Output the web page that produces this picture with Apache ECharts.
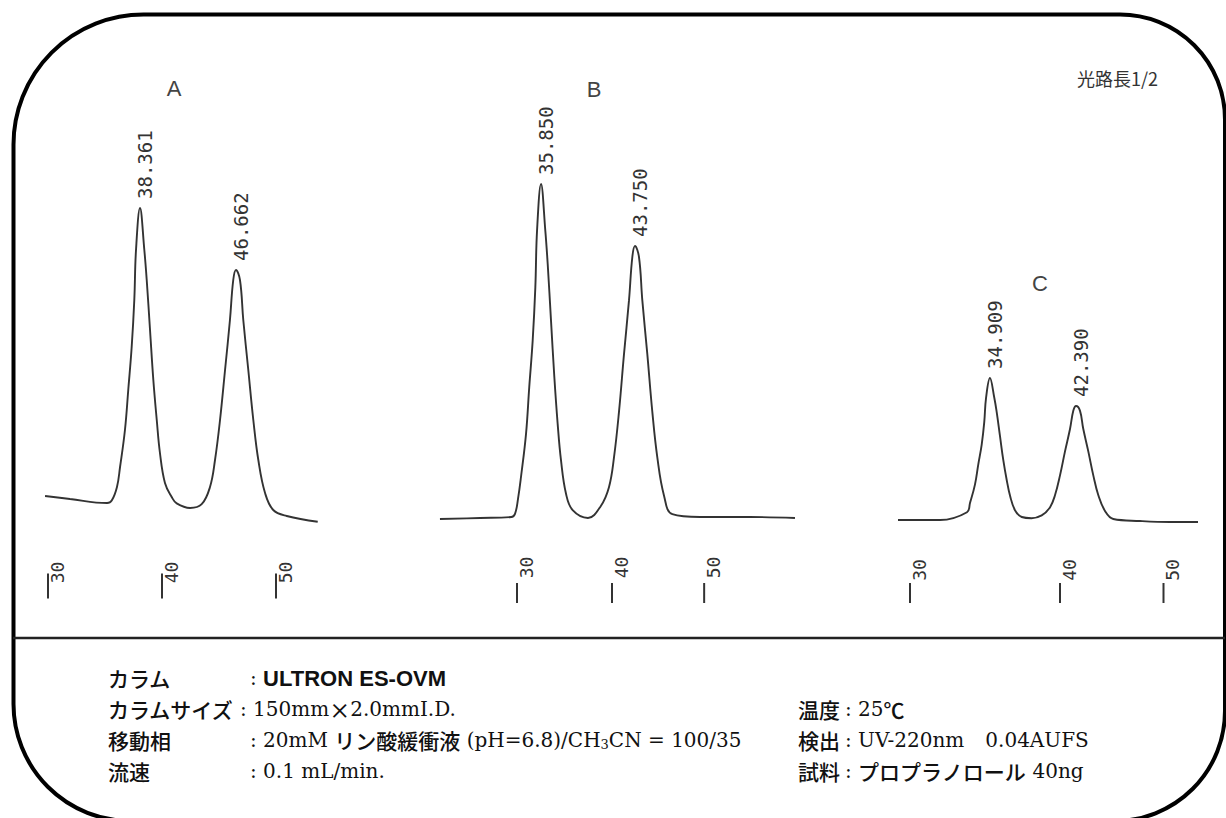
<!DOCTYPE html>
<html>
<head>
<meta charset="utf-8">
<script src="https://cdn.jsdelivr.net/npm/echarts@6/dist/echarts.min.js"></script>
<style>
html, body { margin: 0; padding: 0; background: #fff; }
#chart { width: 1226px; height: 818px; }
</style>
</head>
<body>
<div id="chart"></div>
<script>
// クロマトグラム A
var timeA = [29.74, 31.93, 35.18, 35.59, 36.05, 36.32, 36.75, 37.04, 37.34, 37.57, 37.72, 38.07, 38.45, 38.66, 38.95, 39.24, 39.54, 39.82, 40.26, 40.85, 41.29, 42.46, 43.48, 44.21, 44.65, 45.09, 45.53, 45.96, 46.25, 46.49, 46.84, 47.13, 47.57, 48.01, 48.45, 49.04, 49.76, 50.94, 53.66];
var signalA = [7.25, 6.5, 5.5, 6.1, 9.5, 14.5, 23.75, 33.75, 44.5, 56.25, 68.75, 79.25, 68.75, 61.25, 48.75, 36.25, 26.25, 18, 10.5, 7, 5.4, 4.25, 5.2, 9.5, 16.25, 26.25, 38.75, 51.25, 61.25, 63.75, 61.25, 51.25, 38.75, 26.25, 16.25, 8, 3.75, 2.25, 0.8];
// クロマトグラム B
var timeB = [21.89, 26.1, 29.4, 29.79, 30.11, 30.42, 30.95, 31.29, 31.65, 31.93, 32.11, 32.53, 32.98, 33.23, 33.58, 33.93, 34.28, 34.63, 35.16, 35.86, 37.47, 38.81, 39.68, 40.21, 40.74, 41.26, 41.79, 42.14, 42.42, 42.84, 43.19, 43.72, 44.24, 44.77, 45.47, 46.35, 49.26, 54.53, 59.26];
var signalB = [1.5, 1.75, 2, 2.8, 6.6, 12, 22.8, 34.5, 46.1, 59.4, 73.6, 85.25, 73.6, 65.3, 51.1, 37, 25.3, 16.2, 7.8, 3.7, 1.75, 4.7, 9.45, 16.9, 28.4, 42.65, 56.2, 67, 69.75, 67, 56.2, 42.65, 28.4, 16.9, 7.4, 2.7, 2, 2, 1.75];
// クロマトグラム C
var timeC = [29.2, 32, 33.8, 34, 34.33, 34.55, 34.78, 34.95, 35.07, 35.33, 35.62, 35.78, 36, 36.22, 36.45, 36.67, 37, 37.45, 38.1, 38.78, 39.33, 39.67, 40, 40.33, 40.67, 40.89, 41.07, 41.33, 41.55, 41.89, 42.22, 42.55, 43, 43.55, 45.33, 47.33, 49.2];
var signalC = [1.25, 1.25, 3.2, 5.5, 10.1, 15.1, 20.1, 25.7, 31.8, 36.75, 31.8, 28.2, 22.2, 16.2, 11.2, 7.3, 3.7, 2, 1.7, 2.4, 4.4, 7.5, 12.4, 18.35, 24.05, 28.6, 29.75, 28.6, 24.05, 18.35, 12.4, 7.5, 3.5, 1.5, 1, 0.75, 0.75];

// ピーク
var peakTimeA = [38.07, 46.49], peakSignalA = [79.25, 63.75], peakLabelA = ['38.361', '46.662'];
var peakTimeB = [32.53, 42.42], peakSignalB = [85.25, 69.75], peakLabelB = ['35.850', '43.750'];
var peakTimeC = [35.33, 41.07], peakSignalC = [36.75, 29.75], peakLabelC = ['34.909', '42.390'];

// 目盛
var tickLabels = ['30', '40', '50'];
var tickPosA = [30, 40, 50];
var tickPosB = [30, 40, 49.7];
var tickPosC = [30, 40, 46.9];

var chart = echarts.init(document.getElementById('chart'), null, { renderer: 'svg' });

function pairs(t, s) {
    return t.map(function (x, i) { return [x, s[i]]; });
}

function curve(i, t, s) {
    return {
        type: 'line', xAxisIndex: i, yAxisIndex: i,
        data: pairs(t, s),
        showSymbol: false, smooth: 0.4,
        lineStyle: { color: '#333', width: 1.9 },
        silent: true, animation: false
    };
}

function ticks(i, pos, v, len, dx, dy) {
    return {
        type: 'custom', xAxisIndex: i, yAxisIndex: i, silent: true, animation: false,
        data: pos.map(function (x, k) { return [x, v, k]; }),
        renderItem: function (params, api) {
            var p = api.coord([api.value(0), api.value(1)]);
            return {
                type: 'group', children: [
                    { type: 'line', shape: { x1: p[0], y1: p[1] - len / 2, x2: p[0], y2: p[1] + len / 2 }, style: { stroke: '#333', lineWidth: 2 } },
                    { type: 'text', x: p[0] + dx, y: p[1] + dy, rotation: Math.PI / 2,
                      style: { text: tickLabels[api.value(2)], fontFamily: 'DejaVu Sans Mono', fontSize: 18, fill: '#333', align: 'center', verticalAlign: 'middle' } }
                ]
            };
        }
    };
}

function peaks(i, t, s, labels) {
    return {
        type: 'custom', xAxisIndex: i, yAxisIndex: i, silent: true, animation: false,
        data: t.map(function (x, k) { return [x, s[k], k]; }),
        renderItem: function (params, api) {
            var p = api.coord([api.value(0), api.value(1)]);
            return { type: 'text', x: p[0] + 5, y: p[1] - 9, rotation: Math.PI / 2,
                     style: { text: labels[api.value(2)], fontFamily: 'DejaVu Sans Mono', fontSize: 19, fill: '#333', align: 'left', verticalAlign: 'middle' } };
        }
    };
}

var grids = [
    { left: 42.3, width: 279.3, top: 85, height: 560 },
    { left: 436.25, width: 361, top: 85, height: 560 },
    { left: 895, width: 306, top: 85, height: 560 }
];
var xRanges = [[29.5, 54], [21.5, 59.5], [29, 49.4]];

var J = 'Noto Sans CJK JP', S = 'DejaVu Serif';
var rich = {
    j: { fontFamily: J, fontSize: 21, fontWeight: 500, fill: '#111' },
    s: { fontFamily: S, fontSize: 20, fill: '#111' },
    b: { fontFamily: 'Liberation Sans', fontSize: 22, fontWeight: 'bold', fill: '#111' },
    sub: { fontFamily: S, fontSize: 13, fill: '#111', verticalAlign: 'bottom' }
};
function txt(x, y, text) {
    return { type: 'text', x: x, y: y, silent: true,
             style: { text: text, rich: rich, align: 'left', verticalAlign: 'middle' } };
}

var option = {
    backgroundColor: '#fff',
    animation: false,
    grid: grids,
    xAxis: xRanges.map(function (r, i) {
        return { type: 'value', gridIndex: i, min: r[0], max: r[1], show: false };
    }),
    yAxis: grids.map(function (g, i) {
        return { type: 'value', gridIndex: i, min: -30, max: 110, show: false };
    }),
    series: [
        curve(0, timeA, signalA), curve(1, timeB, signalB), curve(2, timeC, signalC),
        ticks(0, tickPosA, -15.25, 25, 9, -13.5),
        ticks(1, tickPosB, -17, 20, 9, -25.5),
        ticks(2, tickPosC, -17, 20, 9, -23),
        peaks(0, peakTimeA, peakSignalA, peakLabelA),
        peaks(1, peakTimeB, peakSignalB, peakLabelB),
        peaks(2, peakTimeC, peakSignalC, peakLabelC)
    ],
    graphic: { elements: [
        { type: 'rect', silent: true, shape: { x: 13.5, y: 14.5, width: 1211.5, height: 806.5, r: [130, 105, 110, 117] },
          style: { fill: 'none', stroke: '#000', lineWidth: 4 } },
        { type: 'line', silent: true, shape: { x1: 13, y1: 638, x2: 1225, y2: 638 }, style: { stroke: '#222', lineWidth: 2.5 } },
        { type: 'text', x: 174, y: 88, style: { text: 'A', fontFamily: 'Liberation Sans', fontSize: 22, fill: '#444', align: 'center', verticalAlign: 'middle' } },
        { type: 'text', x: 594, y: 89, style: { text: 'B', fontFamily: 'Liberation Sans', fontSize: 22, fill: '#444', align: 'center', verticalAlign: 'middle' } },
        { type: 'text', x: 1040, y: 283, style: { text: 'C', fontFamily: 'Liberation Sans', fontSize: 22, fill: '#444', align: 'center', verticalAlign: 'middle' } },
        { type: 'text', x: 1077, y: 78, style: { text: '光路長1/2', fontFamily: J, fontSize: 18, fill: '#333', align: 'left', verticalAlign: 'middle' } },

        txt(108, 678, '{j|カラム}'),
        txt(108, 709, '{j|カラムサイズ}'),
        txt(108, 740, '{j|移動相}'),
        txt(108, 771, '{j|流速}'),
        txt(250, 678, '{s|: }{b|ULTRON ES-OVM}'),
        txt(240, 709, '{s|: 150mm}{j|×}{s|2.0mmI.D.}'),
        txt(250, 740, '{s|: 20mM }{j|リン酸緩衝液}{s| (pH=6.8)/CH}{sub|3}{s|CN = 100/35}'),
        txt(250, 771, '{s|: 0.1 mL/min.}'),

        txt(798, 709, '{j|温度}'),
        txt(798, 740, '{j|検出}'),
        txt(798, 771, '{j|試料}'),
        txt(845, 709, '{s|: 25}{j|℃}'),
        txt(845, 740, '{s|: UV-220nm}{j|　}{s|0.04AUFS}'),
        txt(845, 771, '{s|: }{j|プロプラノロール}{s| 40ng}')
    ] }
};
chart.setOption(option);
</script>
</body>
</html>
